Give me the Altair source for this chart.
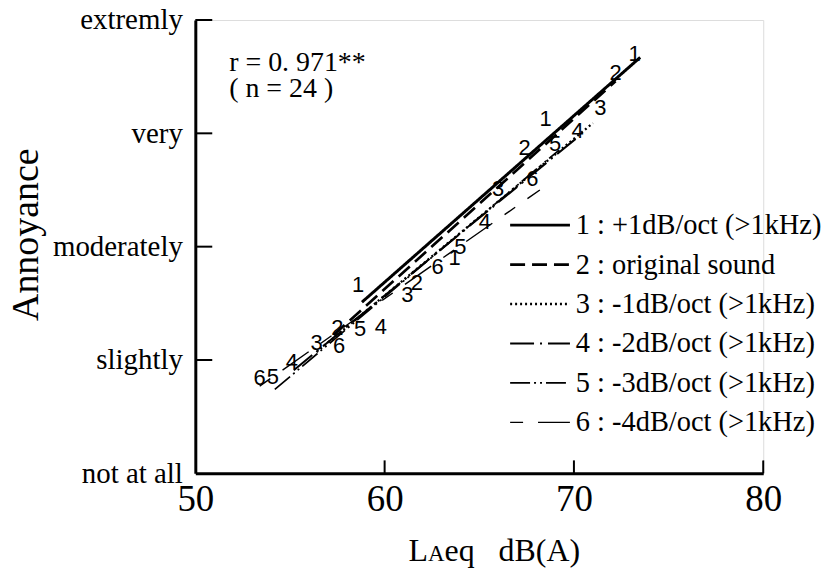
import altair as alt
import pandas as pd

# ---------------- data ----------------
conditions = ["1", "2", "3", "4", "5", "6"]
legend_labels = [
    "1 : +1dB/oct (>1kHz)",
    "2 : original sound",
    "3 : -1dB/oct (>1kHz)",
    "4 : -2dB/oct (>1kHz)",
    "5 : -3dB/oct (>1kHz)",
    "6 : -4dB/oct (>1kHz)",
]

# individual sounds (number marks): LAeq and annoyance per condition
laeq_1 = [58.6, 63.7, 68.5, 73.2]
ann_1 = [1.66, 1.90, 3.13, 3.70]
laeq_2 = [57.5, 61.7, 67.4, 72.2]
ann_2 = [1.28, 1.68, 2.87, 3.53]
laeq_3 = [56.4, 61.2, 66.0, 71.4]
ann_3 = [1.15, 1.57, 2.51, 3.22]
laeq_4 = [55.1, 59.8, 65.3, 70.2]
ann_4 = [0.98, 1.29, 2.22, 3.02]
laeq_5 = [54.1, 58.7, 64.0, 69.0]
ann_5 = [0.85, 1.27, 2.00, 2.91]
laeq_6 = [53.4, 57.6, 62.8, 67.8]
ann_6 = [0.84, 1.12, 1.82, 2.60]

# regression lines per condition (start / end)
line_x_start = [58.8, 57.3, 56.4, 55.2, 54.2, 53.4]
line_y_start = [1.51, 1.22, 1.07, 0.91, 0.74, 0.77]
line_x_end = [73.5, 72.2, 71.0, 70.3, 69.2, 68.2]
line_y_end = [3.67, 3.46, 3.09, 2.98, 2.85, 2.50]

y_tick_values = [0, 1, 2, 3, 4]
y_tick_labels = ["not at all", "slightly", "moderately", "very", "extremly"]
x_tick_values = [50, 60, 70, 80]
notes_text = ["r = 0. 971**", "( n = 24 )"]
NB = "\u00a0"
x_title_parts = ["L", "A", "eq" + NB * 3 + "dB(A)"]

# ---------------- styles ----------------
dashes = [[1, 0], [15, 7], [2, 3], [24, 6, 2, 6], [20, 4, 2, 4, 2, 4], [13, 15, 32, 15]]
widths = [3, 1.4, 1.4, 1.4, 1.4, 1.4]
SERIF = "Times New Roman, Liberation Serif, serif"
SANS = "Arial, Liberation Sans, sans-serif"

W, H = 570, 455

pts = pd.DataFrame({
    "laeq": laeq_1 + laeq_2 + laeq_3 + laeq_4 + laeq_5 + laeq_6,
    "ann": ann_1 + ann_2 + ann_3 + ann_4 + ann_5 + ann_6,
    "cond": [c for c in conditions for _ in range(4)],
})

lines = pd.DataFrame({
    "cond": conditions,
    "x1": line_x_start, "y1": line_y_start,
    "x2": line_x_end, "y2": line_y_end,
})

# legend placed in data space (layout constants)
leg_x0, leg_x1, leg_tx = 66.63, 69.79, 70.1
leg_y0, leg_step = 2.19, 0.348
legend = pd.DataFrame({
    "cond": conditions,
    "label": legend_labels,
    "lx0": [leg_x0] * 6,
    "lx1": [leg_x1] * 6,
    "ltx": [leg_tx] * 6,
    "ly": [leg_y0 - i * leg_step for i in range(6)],
})

xscale = alt.Scale(domain=[50, 80], nice=False, zero=False)
yscale = alt.Scale(domain=[0, 4], nice=False, zero=False)
dash_scale = alt.Scale(domain=conditions, range=dashes)
width_scale = alt.Scale(domain=conditions, range=widths)

label_expr = "[" + ",".join("'%s'" % s for s in y_tick_labels) + "][datum.value]"

base_x = alt.X("laeq:Q", scale=xscale, title=None,
               axis=alt.Axis(values=x_tick_values, ticks=False, grid=False,
                             domainWidth=3, domainColor="black",
                             labelFont=SERIF, labelFontSize=37, labelColor="black",
                             labelPadding=8, labelFlush=False))
base_y = alt.Y("ann:Q", scale=yscale, title="Annoyance",
               axis=alt.Axis(values=y_tick_values, ticks=False, grid=False,
                             domainWidth=3, domainColor="black",
                             labelExpr=label_expr,
                             labelFont=SERIF, labelFontSize=29, labelColor="black",
                             labelPadding=13, labelFlush=False,
                             titleFont=SERIF, titleFontSize=38, titleFontWeight="normal",
                             titleColor="black", titleX=-158, titleY=215,
                             titleBaseline="alphabetic"))

points = alt.Chart(pts).mark_text(font=SANS, fontSize=22, color="black").encode(
    x=base_x, y=base_y, text="cond:N"
)

reg = alt.Chart(lines).mark_rule(color="black").encode(
    x="x1:Q", y="y1:Q", x2="x2:Q", y2="y2:Q",
    strokeDash=alt.StrokeDash("cond:N", scale=dash_scale, legend=None),
    strokeWidth=alt.StrokeWidth("cond:N", scale=width_scale, legend=None),
)

leg_lines = alt.Chart(legend).mark_rule(color="black").encode(
    x="lx0:Q", x2="lx1:Q", y="ly:Q",
    strokeDash=alt.StrokeDash("cond:N", scale=dash_scale, legend=None),
    strokeWidth=alt.StrokeWidth("cond:N", scale=width_scale, legend=None),
)
leg_text = alt.Chart(legend).mark_text(font=SERIF, fontSize=28.5, align="left",
                                       baseline="middle", color="black").encode(
    x="ltx:Q", y="ly:Q", text="label:N"
)

xt = alt.Chart(pd.DataFrame({"t": x_tick_values[1:]})).mark_rule(
    color="black", strokeWidth=2).encode(
    x="t:Q", y=alt.value(H), y2=alt.value(H - 13)
)
yt = alt.Chart(pd.DataFrame({"t": y_tick_values[1:]})).mark_rule(
    color="black", strokeWidth=2).encode(
    y="t:Q", x=alt.value(0), x2=alt.value(17)
)

one = pd.DataFrame({"k": [0]})


def free_text(txt, x, y, size):
    return alt.Chart(one).mark_text(
        font=SERIF, fontSize=size, align="left", baseline="alphabetic", color="black"
    ).encode(x=alt.value(x), y=alt.value(y), text=alt.value(txt))


note1 = free_text(notes_text[0], 34, 51, 28)
note2 = free_text(notes_text[1], 34, 77, 28)

# x-axis title "LAeq dB(A)" with small-cap A
TS = 32
tx0 = 214
ty = H + 88
t1 = free_text(x_title_parts[0], tx0, ty, TS)
t2 = free_text(x_title_parts[1], tx0 + 0.611 * TS, ty, TS * 0.72)
t3 = free_text(x_title_parts[2], tx0 + 0.611 * TS + 0.722 * TS * 0.72, ty, TS)

chart = alt.layer(points, reg, leg_lines, leg_text, xt, yt, note1, note2,
                  t1, t2, t3).properties(
    width=W, height=H,
    autosize=alt.AutoSizeParams(type="none"),
    padding={"left": 188, "top": 11, "right": 64, "bottom": 100},
).configure_view(stroke=None).configure(background="white")

chart.save("out.html", embed_options={"renderer": "svg", "actions": False})
